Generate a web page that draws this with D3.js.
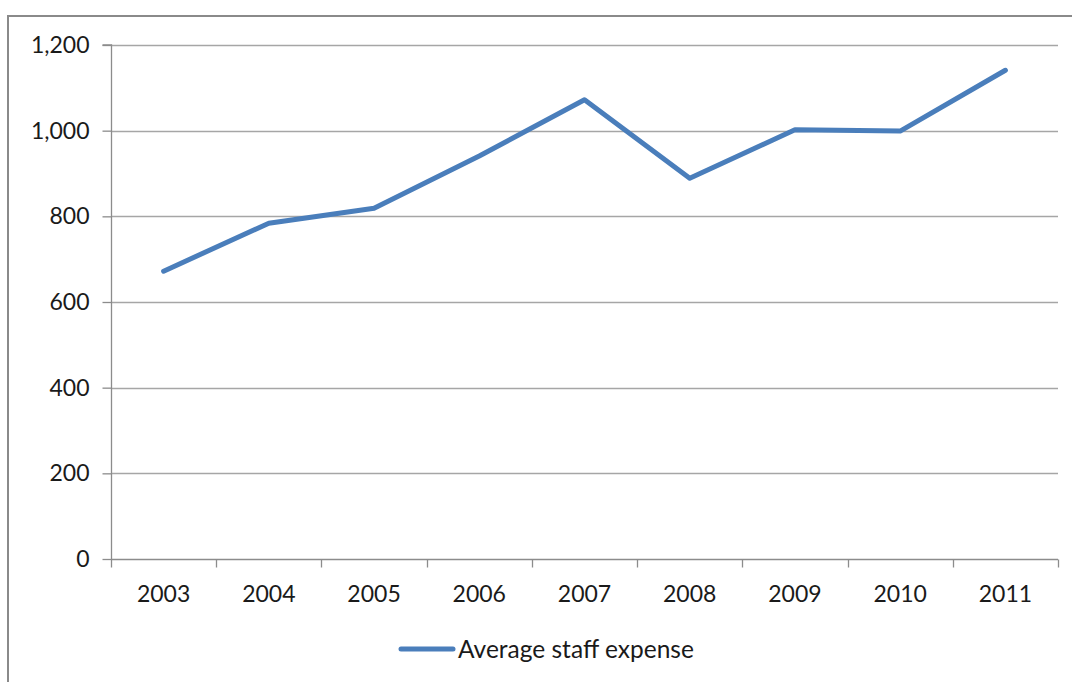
<!DOCTYPE html>
<html>
<head>
<meta charset="utf-8">
<script src="https://cdn.jsdelivr.net/npm/d3@7/dist/d3.min.js"></script>
<style>
html,body{margin:0;padding:0;background:#fff;}
svg{display:block;}
text{font-family:Lato,"Liberation Sans",sans-serif;fill:#1a1a1a;}
</style>
</head>
<body>
<svg id="chart" width="1072" height="682"></svg>
<script>
const categories = ["2003","2004","2005","2006","2007","2008","2009","2010","2011"];
const values = [672, 784, 819, 941, 1072, 889, 1002, 999, 1141];
const yTicks = [0, 200, 400, 600, 800, 1000, 1200];
const seriesName = "Average staff expense";

(function () {
const svg = d3.select("#chart");
const W = 1072, H = 682;
const mLeft = 111, mRight = 1058, mTop = 45, mBottom = 559;

// outer frame
svg.append("rect").attr("x", 8).attr("y", 16).attr("width", W + 20).attr("height", H + 20)
  .attr("fill", "none").attr("stroke", "#8a8a8a").attr("stroke-width", 2);

const x = d3.scaleBand().domain(categories).range([mLeft, mRight]).paddingInner(0).paddingOuter(0);
const y = d3.scaleLinear().domain([0, 1200]).range([mBottom, mTop]);

// gridlines
svg.append("g").selectAll("line").data(yTicks.filter(d => d > 0)).join("line")
  .attr("x1", mLeft).attr("x2", mRight)
  .attr("y1", d => Math.round(y(d)) + 0.5).attr("y2", d => Math.round(y(d)) + 0.5)
  .attr("stroke", "#a6a6a6").attr("stroke-width", 1.3);

// y axis
const yAxis = d3.axisLeft(y).tickValues(yTicks).tickSize(9).tickPadding(13).tickFormat(d3.format(","));
const gy = svg.append("g").attr("transform", `translate(${mLeft + 0.5},0)`).call(yAxis);
gy.select(".domain").attr("stroke", "#8c8c8c").attr("stroke-width", 1.3).attr("d", `M-9,${mTop}H0V${mBottom}`);
gy.selectAll(".tick line").attr("stroke", "#8c8c8c").attr("stroke-width", 1.3);
gy.selectAll(".tick text").style("font-size", "23px").style("font-family", "Lato, sans-serif").attr("fill", "#1a1a1a");

// x axis
const xAxis = d3.axisBottom(x).tickSize(0).tickPadding(26);
const gx = svg.append("g").attr("transform", `translate(0,${mBottom + 0.5})`).call(xAxis);
gx.select(".domain").attr("stroke", "#8c8c8c").attr("stroke-width", 1.3).attr("d", `M${mLeft},0H${mRight}`);
gx.selectAll(".tick text").style("font-size", "23px").style("font-family", "Lato, sans-serif").attr("fill", "#1a1a1a");
// boundary ticks
const bounds = categories.map(c => x(c)).concat([x(categories[categories.length - 1]) + x.bandwidth()]);
gx.append("g").selectAll("line").data(bounds).join("line")
  .attr("x1", d => Math.round(d) + 0.5).attr("x2", d => Math.round(d) + 0.5)
  .attr("y1", 0).attr("y2", 8).attr("stroke", "#8c8c8c").attr("stroke-width", 1.3);

// line
const line = d3.line().x((d, i) => x(categories[i]) + x.bandwidth() / 2).y(d => y(d));
svg.append("path").datum(values).attr("d", line)
  .attr("fill", "none").attr("stroke", "#4a7ebb").attr("stroke-width", 5)
  .attr("stroke-linejoin", "round").attr("stroke-linecap", "round");

// legend
const lg = svg.append("g");
lg.append("line").attr("x1", 401).attr("x2", 453).attr("y1", 649).attr("y2", 649)
  .attr("stroke", "#4a7ebb").attr("stroke-width", 5).attr("stroke-linecap", "round");
lg.append("text").attr("x", 458).attr("y", 658).style("font-size", "24.5px").text(seriesName);
})();
</script>
</body>
</html>
